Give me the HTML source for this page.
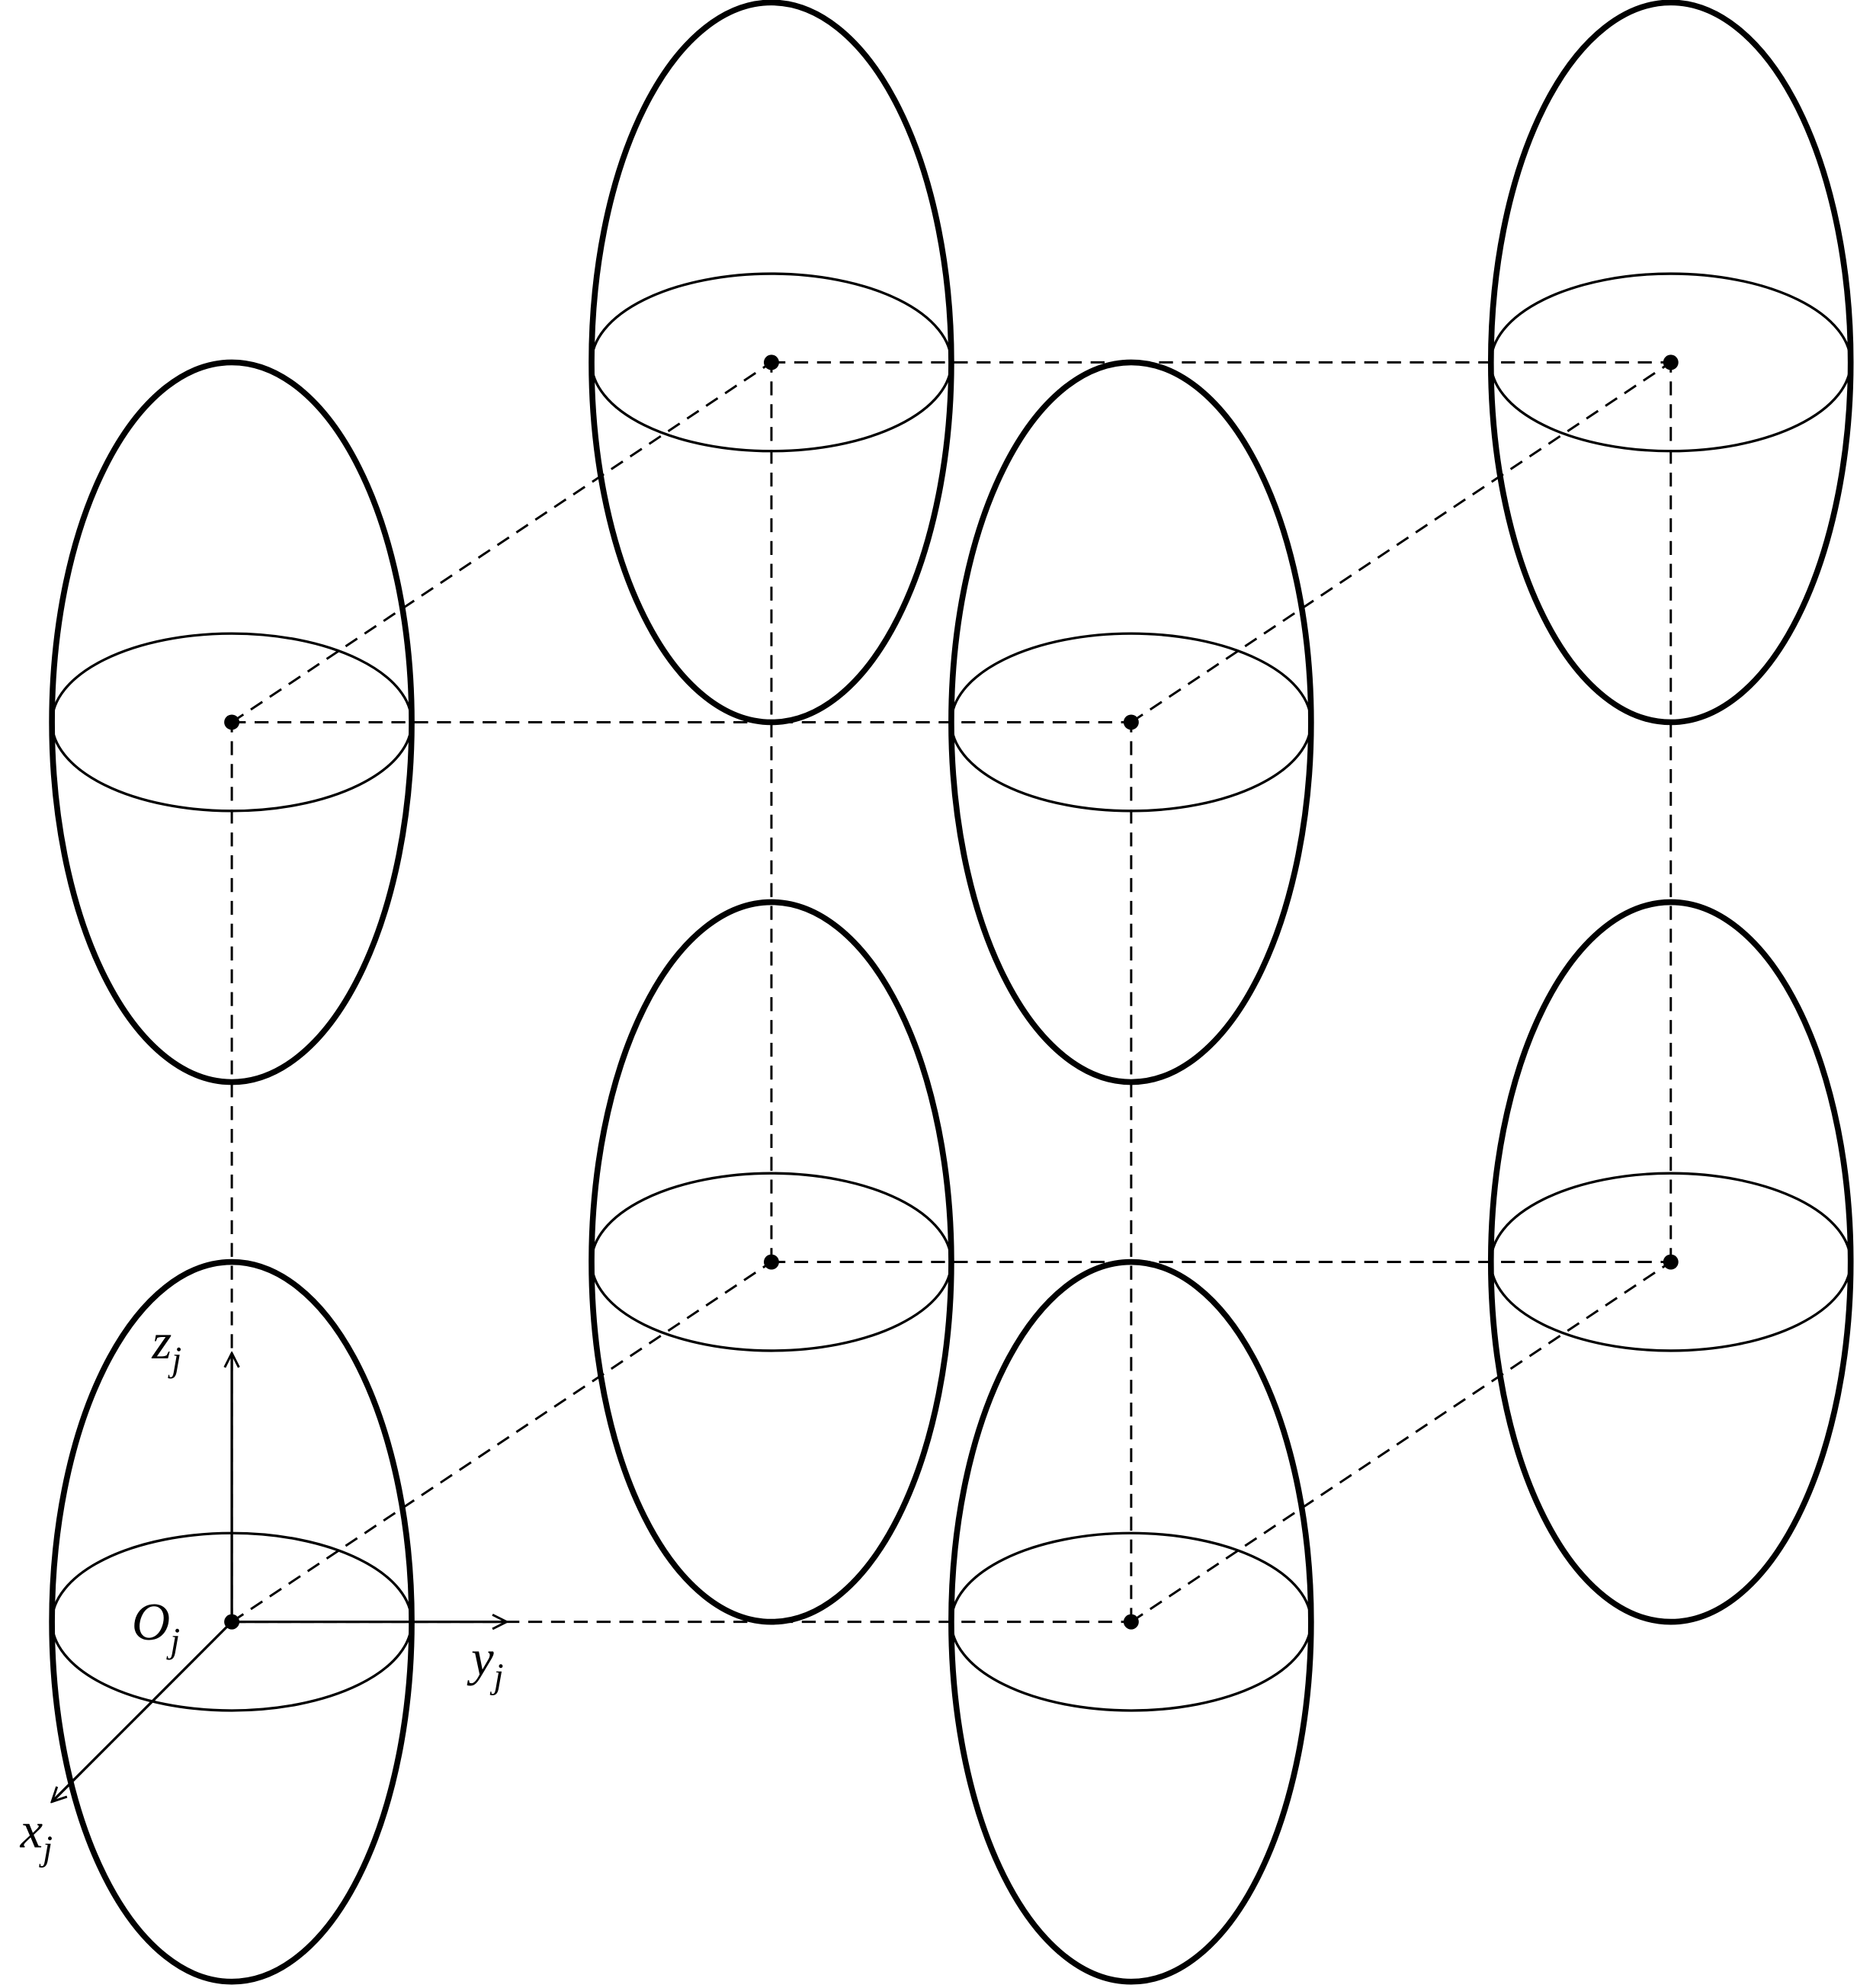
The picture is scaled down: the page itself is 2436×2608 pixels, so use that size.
<!DOCTYPE html>
<html><head><meta charset="utf-8"><style>
html,body{margin:0;padding:0;background:#fff;}
svg{display:block;}
text{font-family:"Liberation Serif",serif;font-style:italic;fill:#000;}
</style></head><body>
<svg id="fig" width="2436" height="2608" viewBox="0 0 1466 1569" preserveAspectRatio="none" xmlns="http://www.w3.org/2000/svg">
<defs>
<marker id="arr" viewBox="0 0 10 10" refX="9" refY="5" markerWidth="7" markerHeight="7" orient="auto-start-reverse">
<path d="M1,1 L9,5 L1,9" fill="none" stroke="#000" stroke-width="1.3"/>
</marker>
</defs>
<g id="dashes"></g>
<g id="ells"></g>
<g id="axes">
<line x1="183" y1="1280" x2="183" y2="1068" stroke="#000" stroke-width="2" marker-end="url(#arr)"/>
<line x1="183" y1="1280" x2="400" y2="1280" stroke="#000" stroke-width="2" marker-end="url(#arr)"/>
<line x1="183" y1="1280" x2="41" y2="1422" stroke="#000" stroke-width="2" marker-end="url(#arr)"/>
<text x="120" y="1072" font-size="40">z<tspan font-size="28" dy="10">j</tspan></text>
<text x="104" y="1294" font-size="42">O<tspan font-size="28" dy="10">j</tspan></text>
<text x="372" y="1322" font-size="40">y<tspan font-size="28" dy="10">j</tspan></text>
<text x="16" y="1458" font-size="40">x<tspan font-size="28" dy="10">j</tspan></text>
</g>
</svg>
<script>
// lattice positions (figure units)
const x = [183, 893];          // front left/right
const z = [1280, 570];         // bottom/top
const backShift = [426, -284]; // depth offset
const ry = 284, rx = 142, ringRy = 70;

const NS = "http://www.w3.org/2000/svg";
const dashes = document.getElementById('dashes');
const ells = document.getElementById('ells');
const pts = [];
for (let d = 0; d < 2; d++) for (let k = 0; k < 2; k++) for (let i = 0; i < 2; i++) {
  pts.push({cx: x[i] + d*backShift[0], cy: z[k] + d*backShift[1], i, k, d});
}
function P(i,k,d){return pts.find(p=>p.i===i&&p.k===k&&p.d===d);}
function dl(a,b){
  const l=document.createElementNS(NS,'line');
  
  
  l.setAttribute('x1',a.cx);l.setAttribute('y1',a.cy);l.setAttribute('x2',b.cx);l.setAttribute('y2',b.cy);
  l.setAttribute('stroke','#000');l.setAttribute('stroke-width','1.8');l.setAttribute('stroke-dasharray','11 7');
  dashes.appendChild(l);
}
for (let d=0;d<2;d++){for(let k=0;k<2;k++)dl(P(0,k,d),P(1,k,d));for(let i=0;i<2;i++)dl(P(i,0,d),P(i,1,d));}
for (let i=0;i<2;i++)for(let k=0;k<2;k++)dl(P(i,k,0),P(i,k,1));
pts.forEach(p=>{
  const e=document.createElementNS(NS,'ellipse');
  
  
  e.setAttribute('cx',p.cx);e.setAttribute('cy',p.cy);e.setAttribute('rx',rx);e.setAttribute('ry',ry);
  e.setAttribute('fill','none');e.setAttribute('stroke','#000');e.setAttribute('stroke-width','4.6');
  ells.appendChild(e);
  const r=document.createElementNS(NS,'ellipse');
  
  
  r.setAttribute('cx',p.cx);r.setAttribute('cy',p.cy);r.setAttribute('rx',rx);r.setAttribute('ry',ringRy);
  r.setAttribute('fill','none');r.setAttribute('stroke','#000');r.setAttribute('stroke-width','2');
  ells.appendChild(r);
  const c=document.createElementNS(NS,'circle');
  
  
  c.setAttribute('cx',p.cx);c.setAttribute('cy',p.cy);c.setAttribute('r','6');
  ells.appendChild(c);
});
</script>
</body></html>
